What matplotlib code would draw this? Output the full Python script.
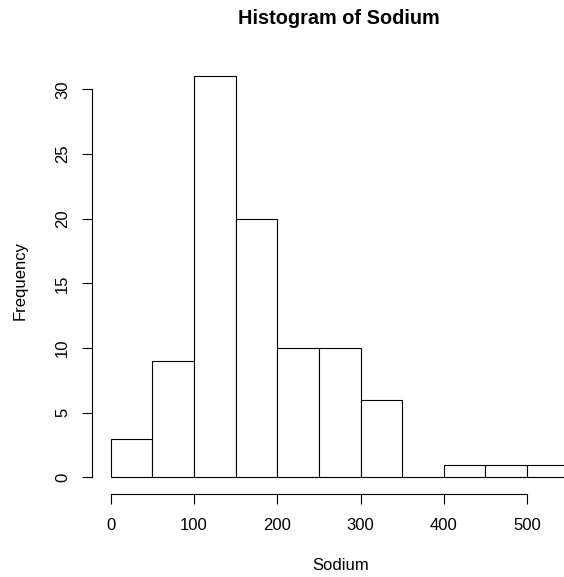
import numpy as np
import matplotlib
matplotlib.use('Agg')
import matplotlib.pyplot as plt

plt.rcParams['font.family'] = ['Liberation Sans', 'DejaVu Sans']

# histogram of Sodium, bins of width 50
binEdges = [0, 50, 100, 150, 200, 250, 300, 350, 400, 450, 500, 550]
counts = [3, 9, 31, 20, 10, 10, 6, 0, 1, 1, 1]
xTicks = [0, 100, 200, 300, 400, 500]
yTicks = [0, 5, 10, 15, 20, 25, 30]

W, H = 564, 577
fig = plt.figure(figsize=(W / 100, H / 100), dpi=100)
# plot region in pixels (R style), runs past the right edge of the figure
left, right, top, bottom = 92.4, 587.0, 60.4, 493.5
ax = fig.add_axes([left / W, 1 - bottom / H, (right - left) / W, (bottom - top) / H])
ax.patch.set_alpha(0)

ax.bar(binEdges[:-1], counts, width=np.diff(binEdges), align='edge',
       facecolor='white', edgecolor='black', linewidth=0.8)

ax.set_xlim(-22, 572)
ax.set_ylim(-1.24, 32.24)
for s in ['top', 'right']:
    ax.spines[s].set_visible(False)
ax.spines['left'].set_bounds(0, 30)
ax.spines['bottom'].set_bounds(0, 500)
for s in ['left', 'bottom']:
    ax.spines[s].set_linewidth(0.8)

ax.set_xticks(xTicks)
ax.set_yticks(yTicks)
ax.tick_params(axis='both', length=7, width=0.8, labelsize=12)
ax.tick_params(axis='x', pad=11)
ax.tick_params(axis='y', pad=9)
for lbl in ax.get_yticklabels():
    lbl.set_rotation(90)
    lbl.set_va('center')

fig.text(339 / W, 1 - 19 / H, 'Histogram of Sodium', ha='center', va='center',
         fontsize=14.3, fontweight='bold')
fig.text(341 / W, 1 - 566 / H, 'Sodium', ha='center', va='center', fontsize=12)
fig.text(20 / W, 1 - 280 / H, 'Frequency', ha='center', va='center',
         rotation=90, fontsize=12)

fig.savefig('out.png', dpi=100)
